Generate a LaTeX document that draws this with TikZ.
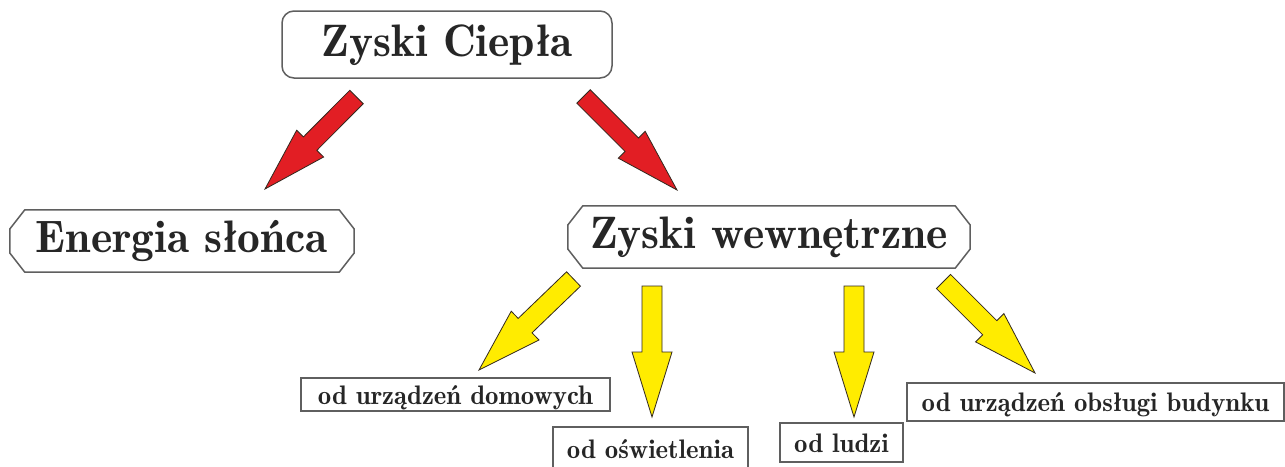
\documentclass[tikz,border=0pt]{standalone}
\usepackage{fontspec}
\newfontfamily\dfont{lmromandemi10-regular.otf}
\usetikzlibrary{calc}
\definecolor{boxgray}{RGB}{95,95,95}
\definecolor{arrred}{RGB}{226,30,36}
\definecolor{arryel}{RGB}{255,236,0}
\definecolor{arredge}{RGB}{50,40,30}
\tikzset{
  bigtxt/.style={font=\dfont\fontsize{45.5}{48}\selectfont, text=black!85, text height=32pt, text depth=9pt, inner sep=0pt},
  smalltxt/.style={font=\dfont\fontsize{26.8}{29}\selectfont, text=black!85, text height=19pt, text depth=0pt, inner sep=0pt},
  roundbox/.style={draw=boxgray, line width=1.5pt, rounded corners=12pt},
  plainbox/.style={draw=boxgray, line width=1.4pt},
  boxline/.style={draw=boxgray, line width=1.5pt},
  arrline/.style={draw=arredge, line width=0.8pt, line join=miter},
}
% #1 tail, #2 tip, #3 fill, #4 half shaft, #5 half head, #6 head length
\newcommand\blockarr[6]{%
  \coordinate (hb) at ($(#2)!#6!(#1)$);
  \draw[arrline, fill=#3]
    ($(#1)!#4!90:(#2)$) -- ($(hb)!#4!-90:(#1)$) -- ($(hb)!#5!-90:(#1)$) -- (#2)
    -- ($(hb)!#5!90:(#1)$) -- ($(hb)!#4!90:(#1)$) -- ($(#1)!#4!-90:(#2)$) -- cycle;
}
\begin{document}
\begin{tikzpicture}[x=1pt, y=-1pt]
\useasboundingbox[fill=white] (0,0) rectangle (1285,466);

% main boxes
\node[bigtxt, roundbox, minimum width=330pt, minimum height=67pt] (zc) at (447,44.5) {Zyski Ciepła};
\node[bigtxt, minimum width=344pt, minimum height=62pt] (en) at (182,241) {Energia słońca};
\node[bigtxt, minimum width=402pt, minimum height=62pt] (zw) at (769,237) {Zyski wewnętrzne};

\foreach \n in {en,zw}{
  \draw[boxline] ($(\n.north west)+(15,0)$) -- ($(\n.north east)+(-15,0)$)
    -- ($(\n.east)+(0,-12)$) -- ($(\n.east)+(0,12)$)
    -- ($(\n.south east)+(-15,0)$) -- ($(\n.south west)+(15,0)$)
    -- ($(\n.west)+(0,12)$) -- ($(\n.west)+(0,-12)$) -- cycle;
}

% small boxes
\node[smalltxt, plainbox, minimum width=309pt, minimum height=33pt] (dom) at (455.5,394.5) {od urządzeń domowych};
\node[smalltxt, plainbox, minimum width=195pt, minimum height=43pt] (osw) at (650.5,448.5) {od oświetlenia};
\node[smalltxt, plainbox, minimum width=123pt, minimum height=39pt] (lud) at (841.5,442.5) {od ludzi};
\node[smalltxt, plainbox, minimum width=377pt, minimum height=38pt] (bud) at (1095.5,402) {od urządzeń obsługi budynku};

% arrow end points
\coordinate (r1t) at (356.5,97);  \coordinate (r1h) at (265,189);
\coordinate (r2t) at (583.5,96.5); \coordinate (r2h) at (677,190);
\coordinate (y1t) at (573.5,279); \coordinate (y1h) at (479,370);
\coordinate (y2t) at (652,286);   \coordinate (y2h) at (652,417);
\coordinate (y3t) at (854,286);   \coordinate (y3h) at (854,417);
\coordinate (y4t) at (943.5,281.5); \coordinate (y4h) at (1035,373);

\blockarr{r1t}{r1h}{arrred}{9.5pt}{19pt}{64pt}
\blockarr{r2t}{r2h}{arrred}{9.5pt}{19pt}{64pt}
\blockarr{y1t}{y1h}{arryel}{10pt}{20pt}{64pt}
\blockarr{y2t}{y2h}{arryel}{10pt}{20pt}{65pt}
\blockarr{y3t}{y3h}{arryel}{10pt}{20pt}{65pt}
\blockarr{y4t}{y4h}{arryel}{10pt}{20pt}{64pt}
\end{tikzpicture}
\end{document}
